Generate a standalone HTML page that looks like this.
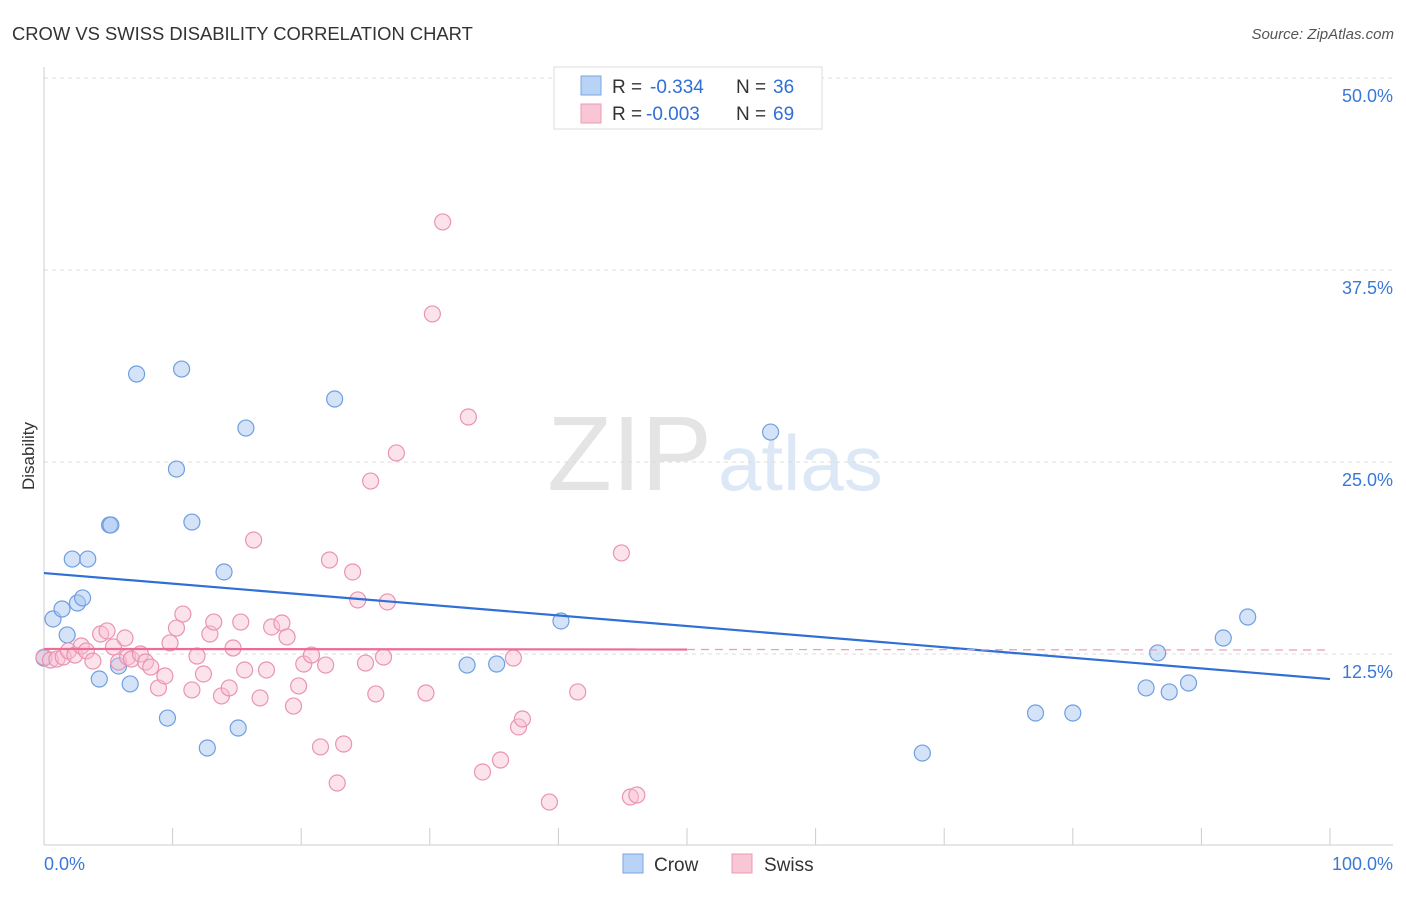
<!DOCTYPE html>
<html><head><meta charset="utf-8">
<style>
body{margin:0;background:#fff;font-family:"Liberation Sans",sans-serif;}
svg text{font-family:"Liberation Sans",sans-serif;}
</style></head>
<body>
<svg id="chart" width="1406" height="892" xmlns="http://www.w3.org/2000/svg">
<text x="12" y="40" font-size="18.4" fill="#333">CROW VS SWISS DISABILITY CORRELATION CHART</text>
<text x="1394" y="39" font-size="15" fill="#555" font-style="italic" text-anchor="end">Source: ZipAtlas.com</text>
<text x="712" y="490" font-size="106" fill="#e4e4e4" text-anchor="end" font-family="Liberation Serif">ZIP</text>
<text x="718" y="490" font-size="78" fill="#dce8f6">atlas</text>
<text x="34" y="456" font-size="17" fill="#333" text-anchor="middle" transform="rotate(-90 34 456)">Disability</text>
<g id="grid"></g>
<g id="axes"></g>
<g id="pts"></g>
<g id="trend"></g>
<g>
<rect x="554" y="67" width="268" height="62" fill="#fff" stroke="#ddd"/>
<rect x="581" y="76" width="20" height="19" fill="#b8d3f5" stroke="#7aa6e0"/>
<rect x="581" y="104" width="20" height="19" fill="#f9c6d6" stroke="#eb9ab4"/>
<text x="612" y="93" font-size="19" fill="#333">R =</text>
<text x="650" y="93" font-size="19" fill="#2f6fd6">-0.334</text>
<text x="736" y="93" font-size="19" fill="#333">N =</text>
<text x="773" y="93" font-size="19" fill="#2f6fd6">36</text>
<text x="612" y="120" font-size="19" fill="#333">R =</text>
<text x="646" y="120" font-size="19" fill="#2f6fd6">-0.003</text>
<text x="736" y="120" font-size="19" fill="#333">N =</text>
<text x="773" y="120" font-size="19" fill="#2f6fd6">69</text>
</g>
<g>
<rect x="623" y="854" width="20" height="19" fill="#b8d3f5" stroke="#7aa6e0"/>
<text x="654" y="871" font-size="19" fill="#333">Crow</text>
<rect x="732" y="854" width="20" height="19" fill="#f9c6d6" stroke="#eb9ab4"/>
<text x="764" y="871" font-size="19" fill="#333">Swiss</text>
</g>
</svg>
<script>
const yTicks=[12.5,25,37.5,50];
const yTickLabels=["12.5%","25.0%","37.5%","50.0%"];
const xTicks=[0,10,20,30,40,50,60,70,80,90,100];
const crowX=[0,0.7,1.4,1.8,2.2,2.6,3.0,3.4,4.3,5.1,5.2,5.8,6.7,7.2,9.6,10.3,10.7,11.5,12.7,14.0,15.1,15.7,22.6,32.9,35.2,40.2,56.5,68.3,77.1,80.0,85.7,86.6,87.5,89.0,91.7,93.6];
const crowY=[12.24,14.78,15.43,13.74,18.68,15.82,16.15,18.68,10.87,20.9,20.9,11.72,10.55,30.73,8.33,24.54,31.05,21.09,6.38,17.84,7.68,27.21,29.1,11.78,11.85,14.65,26.95,6.05,8.66,8.66,10.29,12.57,10.03,10.61,13.54,14.91];
const swissX=[0,0.5,1.0,1.5,1.9,2.4,2.9,3.3,3.8,4.4,4.9,5.4,5.8,6.3,6.5,6.8,7.5,7.9,8.3,8.9,9.4,9.8,10.3,10.8,11.5,11.9,12.4,12.9,13.2,13.8,14.4,14.7,15.3,15.6,16.3,16.8,17.3,17.7,18.5,18.9,19.4,19.8,20.2,20.8,21.5,21.9,22.2,22.8,23.3,24.0,24.4,25.0,25.4,25.8,26.4,26.7,27.4,29.7,30.2,31.0,33.0,34.1,35.5,36.5,36.9,37.2,39.3,41.5,44.9,45.6,46.1];
const swissY=[12.3,12.11,12.17,12.3,12.7,12.43,13.02,12.7,12.04,13.8,14.0,12.96,11.98,13.54,12.3,12.17,12.5,11.98,11.65,10.29,11.07,13.22,14.19,15.1,10.16,12.37,11.2,13.8,14.58,9.77,10.29,12.89,14.58,11.46,19.92,9.64,11.46,14.26,14.52,13.61,9.11,10.42,11.85,12.43,6.45,11.78,18.62,4.1,6.64,17.84,16.02,11.91,23.76,9.9,12.3,15.89,25.59,9.96,34.64,40.63,27.93,4.82,5.6,12.24,7.75,8.27,2.86,10.03,19.08,3.19,3.32];
const crowTrend=[17.77,10.87];
const swissTrend=[12.83,12.76];
const X=v=>44+v*12.86, Y=v=>846-v*15.36;
const NS="http://www.w3.org/2000/svg";
function mk(tag,attrs,parent){const e=document.createElementNS(NS,tag);for(const k in attrs)e.setAttribute(k,attrs[k]);document.getElementById(parent).appendChild(e);return e;}
yTicks.forEach((t,i)=>{
 const l=mk('line',{x1:44,x2:1393,y1:Y(t),y2:Y(t),stroke:'#ddd','stroke-dasharray':'4,4'},'grid');
 
 
 const tx=mk('text',{x:1393,y:Y(t)+24,'font-size':18,fill:'#3a78d8','text-anchor':'end'},'grid');
 tx.textContent=yTickLabels[i];
 
 
});
const ax=mk('line',{x1:44,x2:1393,y1:845,y2:845,stroke:'#ccc'},'axes');


const ay=mk('line',{x1:44,x2:44,y1:67,y2:845,stroke:'#ccc'},'axes');


xTicks.forEach(t=>{
 const l=mk('line',{x1:X(t),x2:X(t),y1:828,y2:845,stroke:'#ccc'},'axes');
 
 
});
const xl0=mk('text',{x:44,y:870,'font-size':18,fill:'#3a78d8'},'axes');xl0.textContent='0.0%';


const xl1=mk('text',{x:1393,y:870,'font-size':18,fill:'#3a78d8','text-anchor':'end'},'axes');xl1.textContent='100.0%';


crowX.forEach((x,i)=>{
 const c=mk('circle',{cx:X(x),cy:Y(crowY[i]),r:8,fill:'rgba(170,200,242,0.5)',stroke:'#6f9fe0','stroke-width':1.2},'pts');
 
 
});
swissX.forEach((x,i)=>{
 const c=mk('circle',{cx:X(x),cy:Y(swissY[i]),r:8,fill:'rgba(248,190,210,0.45)',stroke:'#e994b0','stroke-width':1.2},'pts');
 
 
});
const bt=mk('line',{x1:X(0),y1:Y(crowTrend[0]),x2:X(100),y2:Y(crowTrend[1]),stroke:'#2f6fd6','stroke-width':2.2},'trend');


const sm=swissTrend[0]+(swissTrend[1]-swissTrend[0])*0.5;
const pt=mk('line',{x1:X(0),y1:Y(swissTrend[0]),x2:X(50),y2:Y(sm),stroke:'#ee6b93','stroke-width':2.2},'trend');


const pd=mk('line',{x1:X(50),y1:Y(sm),x2:X(100),y2:Y(swissTrend[1]),stroke:'#ee9ab4','stroke-width':1.2,'stroke-dasharray':'8,6'},'trend');


</script>
</body></html>
